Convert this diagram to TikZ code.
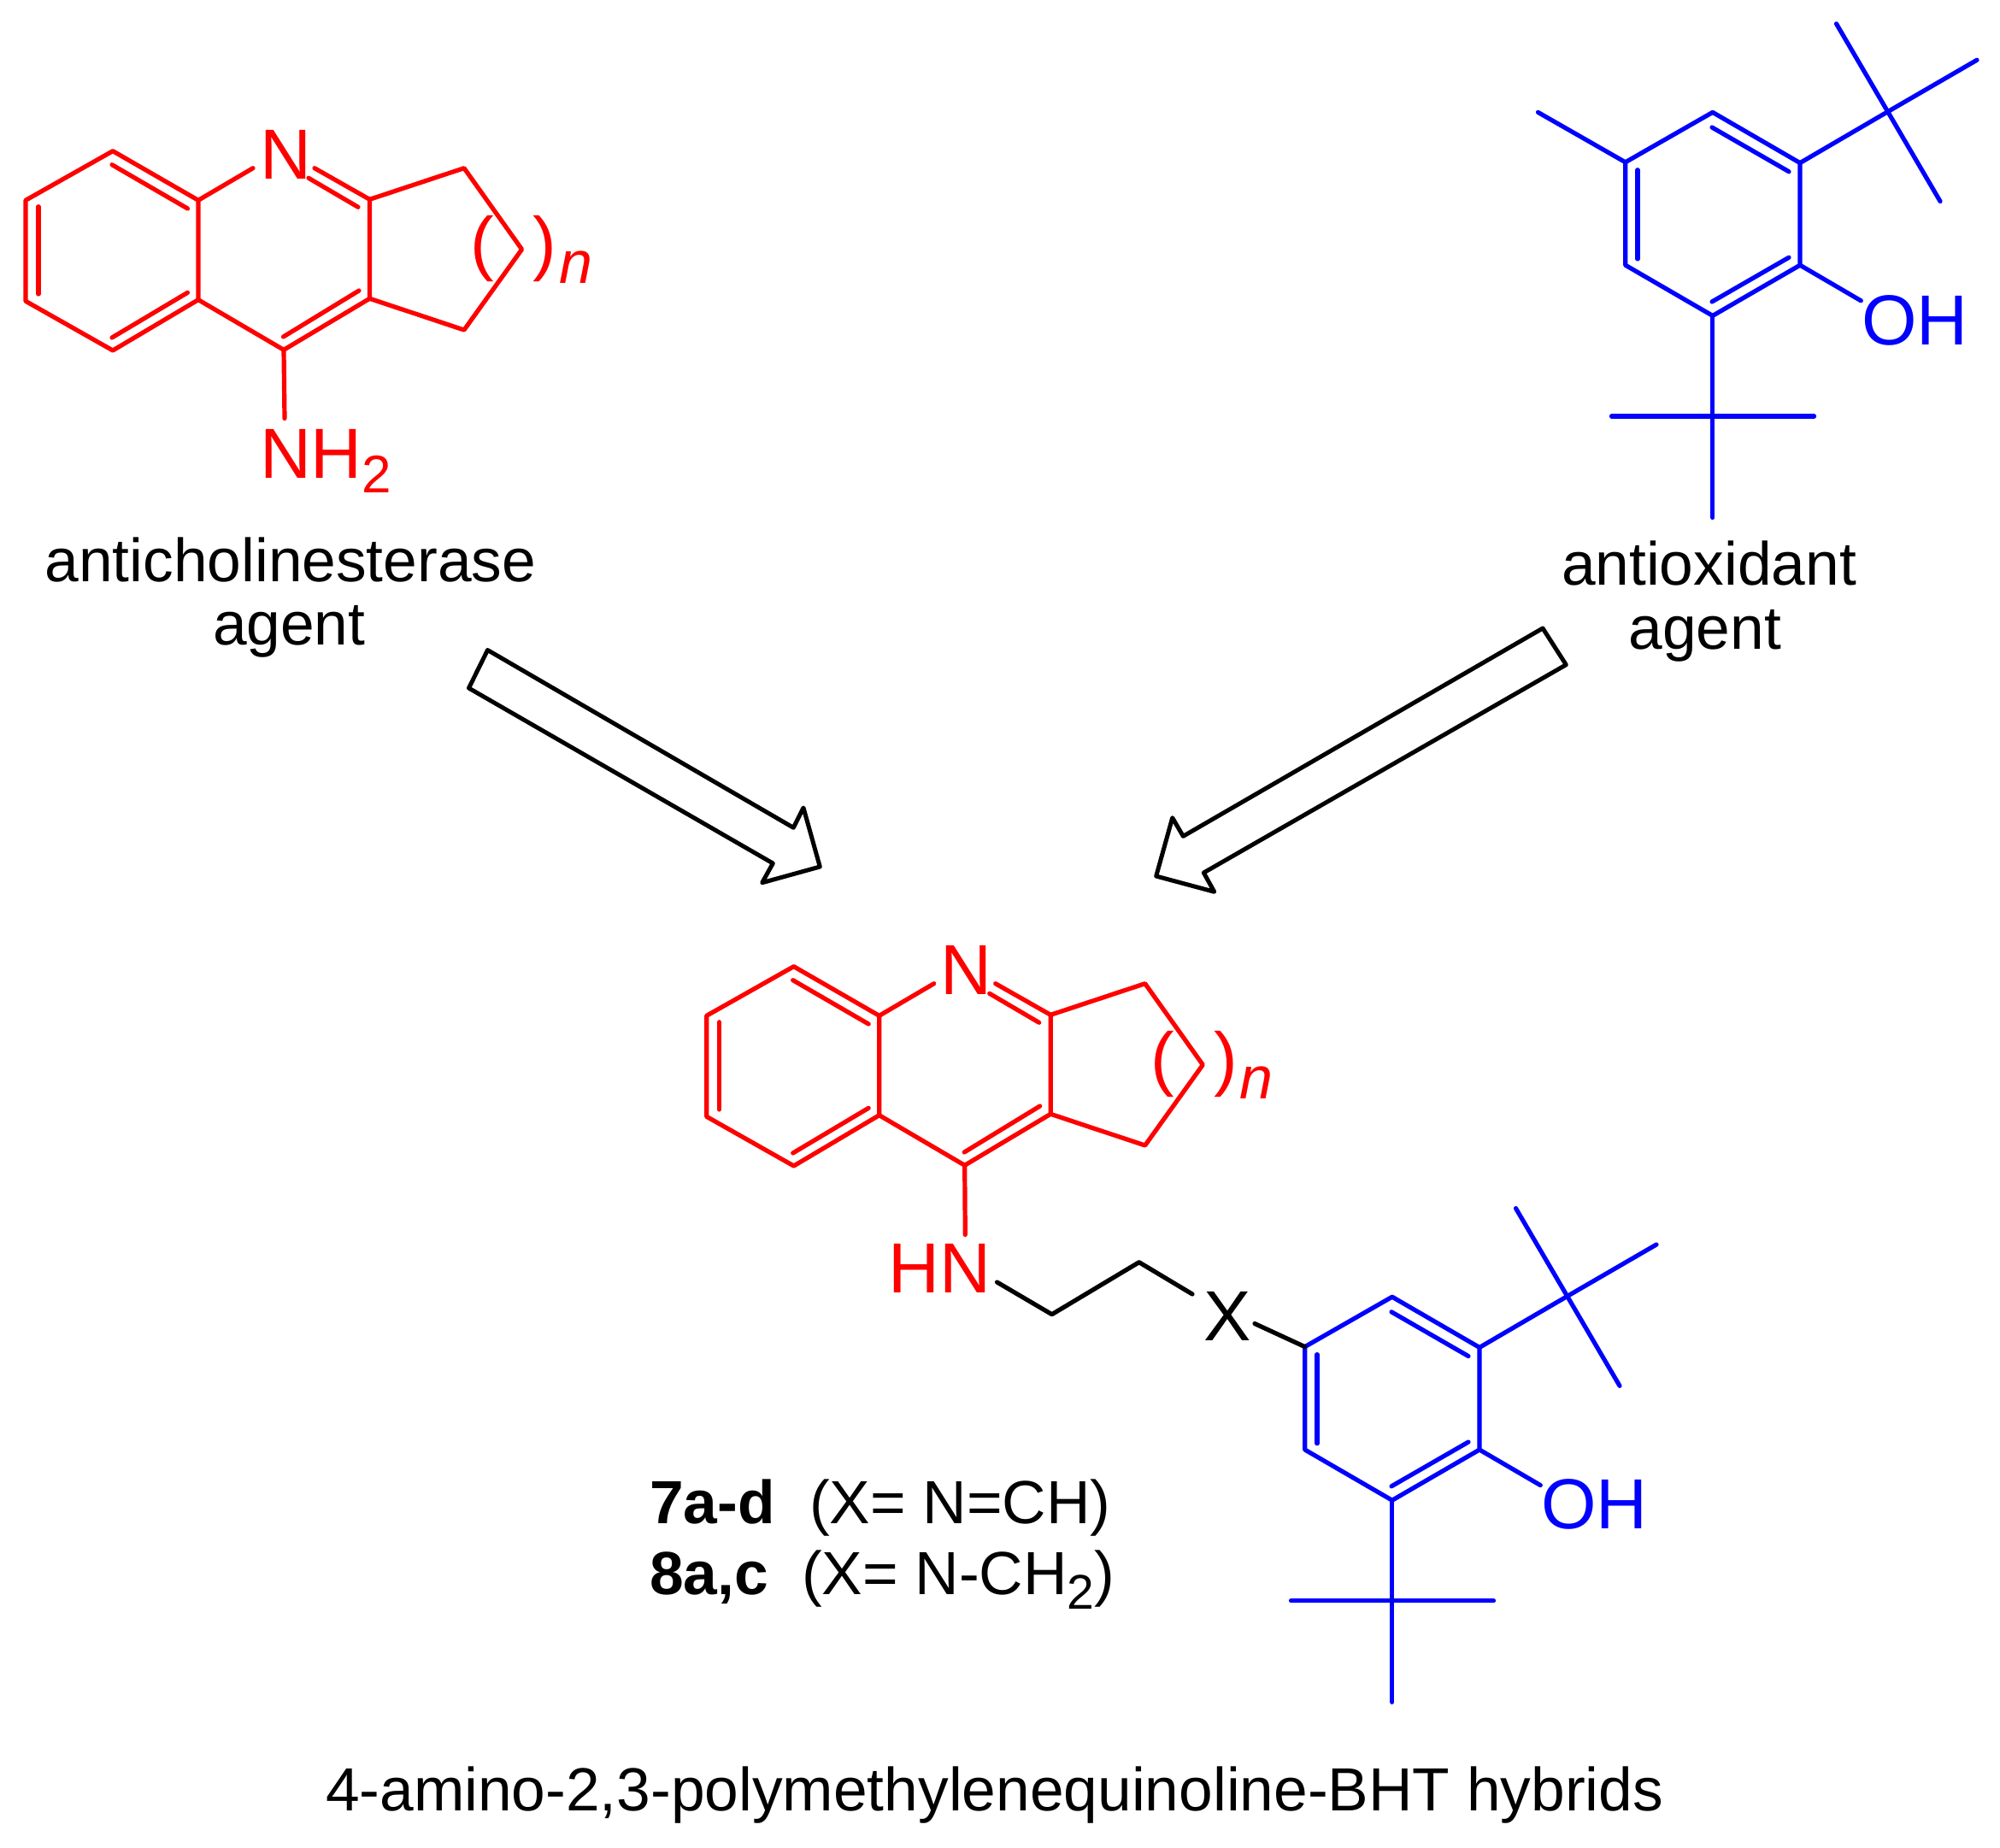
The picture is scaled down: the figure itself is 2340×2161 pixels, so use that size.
\documentclass[tikz,border=0pt]{standalone}
\usepackage{fontspec}
\setmainfont{Liberation Sans}
\definecolor{chemred}{HTML}{FF0000}
\definecolor{chemblue}{HTML}{0000FF}
\tikzset{
  bond/.style={line width=5.2pt,line cap=round,line join=round},
  txt/.style={anchor=base west,inner sep=0pt,outer sep=0pt},
  atomfont/.style={font=\fontsize{83}{83}\selectfont},
  labelfont/.style={font=\fontsize{71.3}{71.3}\selectfont},
  ifont/.style={font=\fontsize{70}{70}\selectfont\itshape},
  hollow/.style={draw=black,line width=5pt,fill=white,line join=round}
}
\newcommand{\quinoline}[1]{%
  \coordinate (#1a) at (132,176.7);
  \coordinate (#1b) at (232,234.3);
  \coordinate (#1c) at (232,350.7);
  \coordinate (#1d) at (132,410);
  \coordinate (#1e) at (30,352.3);
  \coordinate (#1f) at (30,234.3);
  \coordinate (#1g) at (432.5,233.3);
  \coordinate (#1h) at (432.5,349.3);
  \coordinate (#1i) at (332,409.3);
  \coordinate (#1j) at (543,196.7);
  \coordinate (#1k) at (610.6,291.7);
  \coordinate (#1l) at (543,386);
  \coordinate (#1na) at (296,196.7);
  \coordinate (#1nb) at (368,196.7);
  \coordinate (#1nc) at (361,208.3);
  \coordinate (#1nd) at (419,242.3);
  \coordinate (#1p) at (131,192.7);
  \coordinate (#1q) at (219.5,244);
  \coordinate (#1r) at (45,241.7);
  \coordinate (#1s) at (45,344);
  \coordinate (#1t) at (131,395);
  \coordinate (#1u) at (219.5,342.3);
  \coordinate (#1v) at (331.5,394);
  \coordinate (#1w) at (420,340);
  \draw[bond,chemred] (#1a)--(#1b)--(#1c)--(#1d)--(#1e)--(#1f)--cycle;
  \draw[bond,chemred] (#1b)--(#1na);
  \draw[bond,chemred] (#1nb)--(#1g)--(#1h)--(#1i)--(#1c);
  \draw[bond,chemred] (#1nc)--(#1nd);
  \draw[bond,chemred] (#1g)--(#1j)--(#1k)--(#1l)--(#1h);
  \draw[bond,chemred] (#1p)--(#1q);
  \draw[bond,chemred] (#1r)--(#1s);
  \draw[bond,chemred] (#1t)--(#1u);
  \draw[bond,chemred] (#1v)--(#1w);
  \node[txt,atomfont,text=chemred] (#1N) at (304,209.3) {N};
  \node[txt,atomfont,text=chemred] (#1open) at (550,312.8) {(};
  \node[txt,atomfont,text=chemred] (#1close) at (623.4,312.8) {)};
  \node[txt,ifont,text=chemred] (#1sub) at (654,331) {n};
}
\newcommand{\bht}[1]{%
  \coordinate (#1a) at (1901.7,189.8);
  \coordinate (#1b) at (2003.8,131.4);
  \coordinate (#1c) at (2106,190.6);
  \coordinate (#1d) at (2106,310.2);
  \coordinate (#1e) at (2003.8,369.4);
  \coordinate (#1f) at (1901.7,310.2);
  \coordinate (#1p) at (1916,198.8);
  \coordinate (#1q) at (1916,302.9);
  \coordinate (#1r) at (2003,149);
  \coordinate (#1s) at (2093,200.8);
  \coordinate (#1t) at (2003,353);
  \coordinate (#1u) at (2093,301.2);
  \coordinate (#1tb) at (2208.8,130.6);
  \coordinate (#1tc) at (2148.5,27.8);
  \coordinate (#1td) at (2313,70.2);
  \coordinate (#1te) at (2270,235.5);
  \coordinate (#1oh) at (2177.3,351.8);
  \coordinate (#1ub) at (2003.8,487);
  \coordinate (#1uc) at (1885.5,487);
  \coordinate (#1ud) at (2122.5,487);
  \coordinate (#1ue) at (2003.8,605.5);
  \draw[bond,chemblue] (#1a)--(#1b)--(#1c)--(#1d)--(#1e)--(#1f)--cycle;
  \draw[bond,chemblue] (#1p)--(#1q);
  \draw[bond,chemblue] (#1r)--(#1s);
  \draw[bond,chemblue] (#1t)--(#1u);
  \draw[bond,chemblue] (#1c)--(#1tb);
  \draw[bond,chemblue] (#1tc)--(#1te);
  \draw[bond,chemblue] (#1tb)--(#1td);
  \draw[bond,chemblue] (#1d)--(#1oh);
  \draw[bond,chemblue] (#1e)--(#1ue);
  \draw[bond,chemblue] (#1uc)--(#1ud);
  \node[txt,atomfont,text=chemblue] (#1O) at (2178,403) {OH};
}
\begin{document}
\begin{tikzpicture}[x=1pt,y=-1pt]
\useasboundingbox (0,0) rectangle (2340,2161);
\fill[white] (0,0) rectangle (2340,2161);

% top left
\begin{scope}
  \quinoline{A}
  \coordinate (Aend) at (333,489.5);
  \draw[bond,chemred] (Ai)--(Aend);
  \node[txt,atomfont,text=chemred] (Anh) at (304,559.3) {NH\raisebox{-17.4pt}{\fontsize{62}{62}\selectfont 2}};
\end{scope}
\node[txt,labelfont] (anti1) at (52.5,680) {anticholinesterase};
\node[txt,labelfont] (anti2) at (249,754) {agent};

% top right
\bht{B}
\coordinate (Bm) at (1799.5,131.4);
\draw[bond,chemblue] (Bm)--(Ba);
\node[txt,labelfont] (anti3) at (1827,684.3) {antioxidant};
\node[txt,labelfont] (anti4) at (1905.5,759) {agent};

% hollow arrows
\draw[hollow] (570.5,760.5) coordinate (r1) -- (548.5,805) coordinate (r2) -- (904.3,1010) coordinate (r3) -- (891.7,1032.7) coordinate (r4) -- (959.3,1014) coordinate (r5) -- (940,945) coordinate (r6) -- (928.3,968.3) coordinate (r7) -- cycle;
\draw[hollow] (1805,735) coordinate (s1) -- (1832.3,777.7) coordinate (s2) -- (1408.3,1021) coordinate (s3) -- (1420.7,1043.3) coordinate (s4) -- (1352.7,1025) coordinate (s5) -- (1371.7,956.7) coordinate (s6) -- (1384.3,978.3) coordinate (s7) -- cycle;

% hybrid
\begin{scope}[shift={(796.7,954)}]
  \quinoline{C}
\end{scope}
\coordinate (Cend) at (1129.3,1444.5);
\draw[bond,chemred] (Ci)--(Cend);
\node[txt,atomfont,text=chemred] (Chn) at (1039.5,1512.7) {HN};
\coordinate (ch1) at (1166.5,1500);
\coordinate (ch2) at (1230.7,1537.7);
\coordinate (ch3) at (1332.7,1476.7);
\coordinate (ch4) at (1395,1514);
\draw[bond] (ch1)--(ch2)--(ch3)--(ch4);
\node[txt,atomfont] (X) at (1408,1568.6) {X};
\begin{scope}[shift={(-375,1385.8)}]
  \bht{D}
\end{scope}
\coordinate (ch5) at (1468,1548.5);
\draw[bond] (ch5)--(Da);

\node[txt,labelfont] (l7) at (760,1782) {\textbf{7a-d}};
\node[txt,labelfont] (l7b) at (947,1782) {(X= N=CH)};
\node[txt,labelfont] (l8) at (760,1865) {\textbf{8a,c}};
\node[txt,labelfont] (l8b) at (938,1865) {(X= N-CH\raisebox{-17pt}{\fontsize{57}{57}\selectfont 2})};
\node[txt,labelfont] (title) at (381,2118.3) {4-amino-2,3-polymethylenequinoline-BHT hybrids};
\end{tikzpicture}
\end{document}
